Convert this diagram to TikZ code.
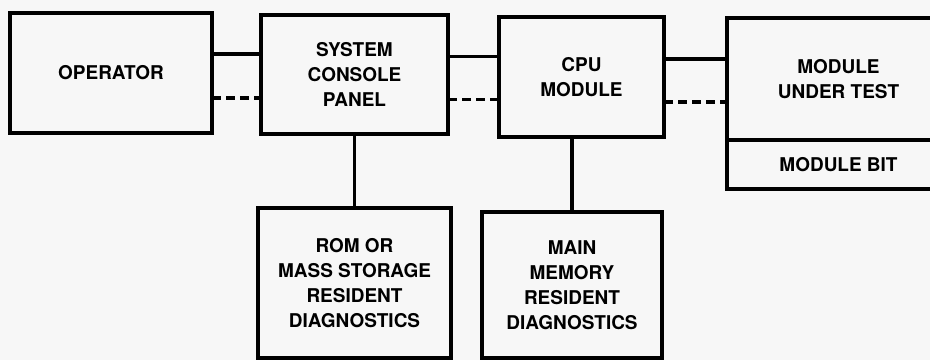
\documentclass[tikz,border=0pt]{standalone}
\usepackage{fontspec}
\setmainfont{TeX Gyre Heros}
\usetikzlibrary{positioning}
\tikzset{
  block/.style={draw=black, line width=2.1pt, fill=gray!6, outer sep=0pt,
    inner sep=0pt, align=center, font=\bfseries\fontsize{10.8}{14.2}\selectfont},
  link/.style={black, line width=2.1pt},
  dashlink/.style={black, line width=2.1pt, dash pattern=on 5pt off 3pt},
}

\begin{document}
\begin{tikzpicture}
    % page
    \fill[gray!6] (0,0) rectangle (18.6,7.2);
    \useasboundingbox (0,0) rectangle (18.6,7.2);
    % top row
    \node[block, minimum width=4.04cm, minimum height=2.4cm] (op) at (2.22,5.74)
      {OPERATOR};
    \node[block, minimum width=3.74cm, minimum height=2.38cm] (con) at (7.09,5.71)
      {SYSTEM\\CONSOLE\\PANEL};
    \node[block, minimum width=3.3cm, minimum height=2.4cm] (cpu) at (11.63,5.66)
      {CPU\\MODULE};
    \node[block, minimum width=4.46cm, minimum height=2.44cm] (mut) at (16.77,5.62)
      {MODULE\\UNDER TEST};
    \node[block, minimum width=4.46cm, minimum height=0.98cm, below=0pt of mut] (bit)
      {MODULE BIT};
    % bottom row
    \node[block, minimum width=3.86cm, minimum height=3.0cm] (rom) at (7.09,1.54)
      {ROM OR\\MASS STORAGE\\RESIDENT\\DIAGNOSTICS};
    \node[block, minimum width=3.6cm, minimum height=2.92cm] (mem) at (11.44,1.5)
      {MAIN\\MEMORY\\RESIDENT\\DIAGNOSTICS};
    % solid and dashed links along the top row
    \draw[link] ([yshift=0.38cm]op.east) -- ([yshift=0.38cm]op.east -| con.west);
    \draw[dashlink] ([yshift=-0.5cm]op.east) -- ([yshift=-0.5cm]op.east -| con.west);
    \draw[link] ([yshift=0.36cm]con.east) -- ([yshift=0.36cm]con.east -| cpu.west);
    \draw[dashlink] ([yshift=-0.5cm]con.east) -- ([yshift=-0.5cm]con.east -| cpu.west);
    \draw[link] ([yshift=0.36cm]cpu.east) -- ([yshift=0.36cm]cpu.east -| mut.west);
    \draw[dashlink] ([yshift=-0.5cm]cpu.east) -- ([yshift=-0.5cm]cpu.east -| mut.west);
    % down to the diagnostics
    \draw[link] (con) -- (rom);
    \draw[link] (cpu.south -| mem.north) -- (mem.north);
\end{tikzpicture}
\end{document}
